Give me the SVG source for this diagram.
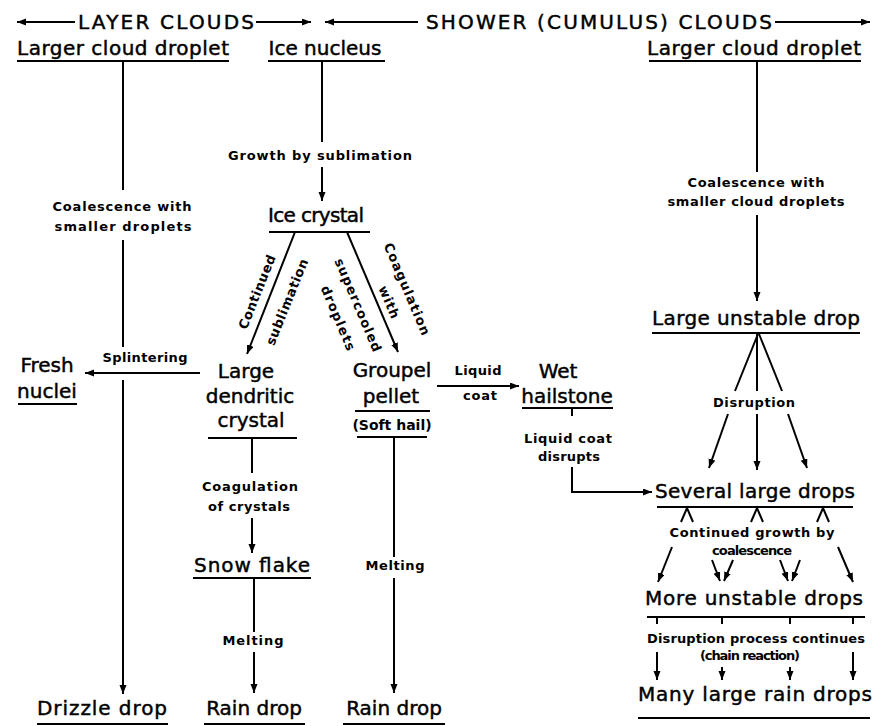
<svg xmlns="http://www.w3.org/2000/svg" width="874" height="726" viewBox="0 0 874 726">
<style>
text{font-family:"DejaVu Sans","Liberation Sans",sans-serif;fill:#000}
.h{font-size:20px;stroke:#000;stroke-width:0.45}
.n{font-size:20px;text-anchor:middle;stroke:#000;stroke-width:0.45}
.l{font-size:13px;font-weight:bold;text-anchor:middle}
.s{font-size:14px;font-weight:bold;text-anchor:middle}
.c{stroke:#000;stroke-width:2;fill:none}
.u{stroke:#000;stroke-width:2}
.a{marker-end:url(#ah)}
.b{marker-start:url(#ah)}
</style>
<defs>
<marker id="ah" markerUnits="userSpaceOnUse" markerWidth="10" markerHeight="8" refX="9" refY="3.5" orient="auto-start-reverse">
<path d="M0,0 L9,3.5 L0,7 z" fill="#000"/>
</marker>
</defs>
<rect width="874" height="726" fill="#fff"/>

<g id="header">
<text class="h" x="78" y="29" textLength="176" lengthAdjust="spacing">LAYER CLOUDS</text>
<text class="h" x="426" y="29" textLength="346" lengthAdjust="spacing">SHOWER (CUMULUS) CLOUDS</text>
</g>

<g id="connectors">
<line class="c b" x1="17" y1="22" x2="75" y2="22"/>
<line class="c a" x1="256" y1="22" x2="311" y2="22"/>
<line class="c b" x1="325" y1="22" x2="418" y2="22"/>
<line class="c a" x1="775" y1="22" x2="870" y2="22"/>

<line class="c" x1="123" y1="61" x2="123" y2="190"/>
<line class="c" x1="123" y1="240" x2="123" y2="347"/>
<line class="c a" x1="123" y1="380" x2="123" y2="694"/>
<line class="c a" x1="200" y1="373" x2="85" y2="373"/>

<line class="c" x1="322" y1="61" x2="322" y2="142"/>
<line class="c a" x1="322" y1="167" x2="322" y2="201"/>
<line class="c a" x1="295" y1="232" x2="247" y2="354"/>
<line class="c a" x1="347" y1="232" x2="398" y2="352"/>

<line class="c" x1="252" y1="438" x2="252" y2="473"/>
<line class="c a" x1="252" y1="518" x2="252" y2="553"/>
<line class="c" x1="254" y1="578" x2="254" y2="632"/>
<line class="c a" x1="254" y1="652" x2="254" y2="693"/>

<line class="c" x1="394" y1="437" x2="394" y2="557"/>
<line class="c a" x1="394" y1="578" x2="394" y2="693"/>
<line class="c a" x1="437" y1="386" x2="519" y2="386"/>

<line class="c" x1="572" y1="408" x2="572" y2="416"/>
<polyline class="c a" points="572,467 572,492 652,492"/>

<line class="c" x1="757" y1="61" x2="757" y2="172"/>
<line class="c a" x1="757" y1="215" x2="757" y2="301"/>

<line class="c" x1="758" y1="334" x2="735" y2="391"/>
<line class="c a" x1="728" y1="414" x2="709" y2="468"/>
<line class="c" x1="757" y1="334" x2="757" y2="391"/>
<line class="c a" x1="757" y1="414" x2="757" y2="470"/>
<line class="c" x1="759" y1="334" x2="782" y2="391"/>
<line class="c a" x1="788" y1="414" x2="807" y2="468"/>

<polyline class="c" points="681,522 687,508 693,522"/>
<polyline class="c" points="751,522 757,508 763,522"/>
<polyline class="c" points="817,522 823,508 829,522"/>
<line class="c a" x1="672" y1="547" x2="658" y2="582"/>
<line class="c a" x1="712" y1="560" x2="720" y2="581"/>
<line class="c a" x1="733" y1="560" x2="724" y2="581"/>
<line class="c a" x1="780" y1="560" x2="788" y2="581"/>
<line class="c a" x1="800" y1="560" x2="792" y2="581"/>
<line class="c a" x1="838" y1="547" x2="853" y2="582"/>

<line class="c" x1="657" y1="617" x2="657" y2="624"/>
<line class="c" x1="722" y1="617" x2="722" y2="624"/>
<line class="c" x1="790" y1="617" x2="790" y2="624"/>
<line class="c" x1="853" y1="617" x2="853" y2="624"/>
<line class="c a" x1="657" y1="652" x2="657" y2="680"/>
<line class="c a" x1="722" y1="667" x2="722" y2="680"/>
<line class="c a" x1="790" y1="667" x2="790" y2="680"/>
<line class="c a" x1="853" y1="652" x2="853" y2="680"/>
</g>

<g id="labels">
<text class="l" x="320" y="160" textLength="184">Growth by sublimation</text>
<text class="l" x="122" y="211" textLength="139">Coalescence with</text>
<text class="l" x="123" y="231" textLength="137">smaller droplets</text>
<text class="l" x="145" y="362" textLength="85">Splintering</text>
<text class="l" x="250" y="491" textLength="96">Coagulation</text>
<text class="l" x="249" y="511" textLength="82">of crystals</text>
<text class="l" x="253" y="645" textLength="61">Melting</text>
<text class="l" x="395" y="570" textLength="59">Melting</text>
<text class="l" x="478" y="375" textLength="47">Liquid</text>
<text class="l" x="480" y="400" textLength="34">coat</text>
<text class="l" x="568" y="443" textLength="88">Liquid coat</text>
<text class="l" x="569" y="461" textLength="62">disrupts</text>
<text class="l" x="756" y="187" textLength="137">Coalescence with</text>
<text class="l" x="756" y="206" textLength="177">smaller cloud droplets</text>
<text class="l" x="754" y="407" textLength="82">Disruption</text>
<text class="l" x="752" y="537" textLength="165">Continued growth by</text>
<text class="l" x="752" y="555" textLength="80">coalescence</text>
<text class="l" x="756" y="643" textLength="218">Disruption process continues</text>
<text class="l" x="750" y="660" textLength="100">(chain reaction)</text>
<text class="l" transform="translate(257,292) rotate(-68)" x="0" y="4.5" textLength="79">Continued</text>
<text class="l" transform="translate(287,302) rotate(-68)" x="0" y="4.5" textLength="92">sublimation</text>
<text class="l" transform="translate(358,305) rotate(67)" x="0" y="4.5" textLength="100">supercooled</text>
<text class="l" transform="translate(338,318) rotate(67)" x="0" y="4.5" textLength="69">droplets</text>
<text class="l" transform="translate(407,289) rotate(67)" x="0" y="4.5" textLength="99">Coagulation</text>
<text class="l" transform="translate(389,302) rotate(67)" x="0" y="4.5" textLength="34">with</text>
</g>

<g id="larger-cloud-droplet-left">
<text class="n" x="123" y="55" textLength="212">Larger cloud droplet</text>
<line class="u" x1="17" y1="61" x2="229" y2="61"/>
</g>
<g id="ice-nucleus">
<text class="n" x="325" y="55">Ice nucleus</text>
<line class="u" x1="268" y1="61" x2="385" y2="61"/>
</g>
<g id="larger-cloud-droplet-right">
<text class="n" x="754" y="55" textLength="214">Larger cloud droplet</text>
<line class="u" x1="649" y1="61" x2="861" y2="61"/>
</g>
<g id="ice-crystal">
<text class="n" x="316" y="222" textLength="96">Ice crystal</text>
<line class="u" x1="269" y1="232" x2="370" y2="232"/>
</g>
<g id="fresh-nuclei">
<text class="n" x="47" y="372">Fresh</text>
<text class="n" x="47" y="398">nuclei</text>
<line class="u" x1="18" y1="404" x2="77" y2="404"/>
</g>
<g id="large-dendritic-crystal">
<text class="n" x="246" y="378">Large</text>
<text class="n" x="250" y="403">dendritic</text>
<text class="n" x="251" y="427">crystal</text>
<line class="u" x1="208" y1="438" x2="297" y2="438"/>
</g>
<g id="groupel-pellet">
<text class="n" x="392" y="377">Groupel</text>
<text class="n" x="391" y="403">pellet</text>
<line class="u" x1="355" y1="411" x2="430" y2="411"/>
<text class="s" x="392" y="430">(Soft hail)</text>
<line class="u" x1="357" y1="437" x2="427" y2="437"/>
</g>
<g id="wet-hailstone">
<text class="n" x="558" y="378">Wet</text>
<text class="n" x="567" y="403">hailstone</text>
<line class="u" x1="522" y1="408" x2="613" y2="408"/>
</g>
<g id="snow-flake">
<text class="n" x="252" y="572" textLength="116">Snow flake</text>
<line class="u" x1="193" y1="578" x2="311" y2="578"/>
</g>
<g id="drizzle-drop">
<text class="n" x="102" y="715" textLength="130">Drizzle drop</text>
<line class="u" x1="37" y1="724" x2="168" y2="724"/>
</g>
<g id="rain-drop-1">
<text class="n" x="254" y="715">Rain drop</text>
<line class="u" x1="204" y1="724" x2="305" y2="724"/>
</g>
<g id="rain-drop-2">
<text class="n" x="394" y="715">Rain drop</text>
<line class="u" x1="343" y1="724" x2="445" y2="724"/>
</g>
<g id="large-unstable-drop">
<text class="n" x="756" y="325" textLength="208">Large unstable drop</text>
<line class="u" x1="652" y1="333" x2="860" y2="333"/>
</g>
<g id="several-large-drops">
<text class="n" x="755" y="498" textLength="200">Several large drops</text>
<line class="u" x1="657" y1="507" x2="853" y2="507"/>
</g>
<g id="more-unstable-drops">
<text class="n" x="754" y="605" textLength="218">More unstable drops</text>
<line class="u" x1="647" y1="617" x2="865" y2="617"/>
</g>
<g id="many-large-rain-drops">
<text class="n" x="755" y="701" textLength="234">Many large rain drops</text>
<line class="u" x1="638" y1="718" x2="870" y2="718"/>
</g>
</svg>
